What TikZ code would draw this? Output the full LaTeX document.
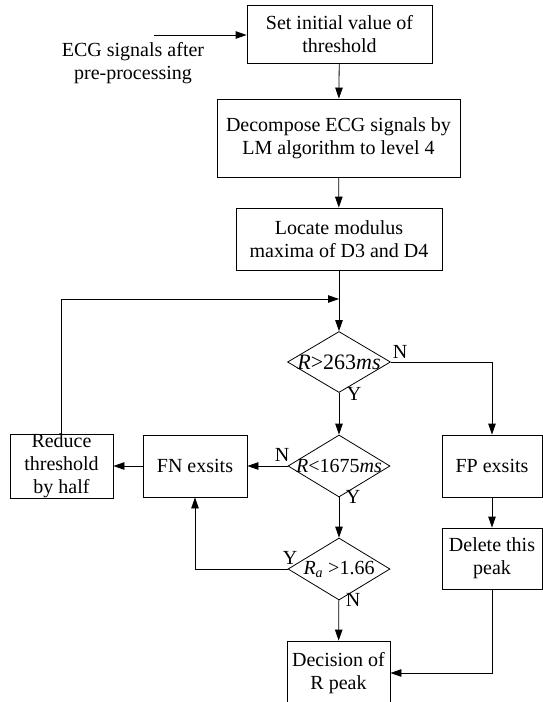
\documentclass[tikz,border=0pt]{standalone}
\usepackage{fontspec}
\setmainfont{Liberation Serif}
\usetikzlibrary{arrows.meta,shapes.geometric}

\begin{document}
\begin{tikzpicture}[
  x=1pt, y=-1pt,
  font=\fontsize{20}{23}\selectfont,
  line width=0.8pt,
  box/.style={draw, align=center, inner sep=0pt, minimum height=62pt},
  cond/.style={draw, diamond, inner sep=0pt, minimum width=102pt, minimum height=62pt},
  yn/.style={inner sep=0pt},
  >={Triangle[length=11pt, width=7.5pt]}
]
  \useasboundingbox (0,0) rectangle (543,702);

  % Nodes
  \node[box, minimum width=185pt, minimum height=58pt] (init) at (339.5,34) {Set initial value of\\threshold};
  \coordinate (input) at (154,35);
  \node[align=center] (inputtxt) at (133,63) {ECG signals after\\pre-processing};
  \node[box, minimum width=243pt, minimum height=78pt] (decomp) at (338.5,138) {Decompose ECG signals by\\LM algorithm to level 4};
  \node[box, minimum width=206pt] (locate) at (339,239) {Locate modulus\\maxima of D3 and D4};
  \coordinate (join) at (339,299);

  \node[cond, minimum width=103pt, minimum height=61pt,
        label={[font=\fontsize{22}{24}\selectfont]center:{\itshape R}>263{\itshape ms}}] (cond1) at (339,362) {};
  \node[cond, label={center:{\itshape R}<1675{\itshape ms}}] (cond2) at (339,466) {};
  \node[cond, label={center:{\itshape R}\textsubscript{\itshape a} >1.66}] (cond3) at (339,569) {};

  \node[box, minimum width=104pt] (fn) at (195,466) {FN exsits};
  \node[box, minimum width=103pt] (reduce) at (61.5,466) {Reduce\\threshold\\by half};
  \node[box, minimum width=100pt] (fp) at (492,466) {FP exsits};
  \node[box, minimum width=100pt, minimum height=61pt] (delete) at (492,558.5) {Delete this\\peak};
  \node[box, minimum width=103pt, minimum height=64pt] (decision) at (338.5,673) {Decision of\\R peak};

  % Labels
  \node[yn] (n1) at (400,352) {N};
  \node[yn] (y1) at (354,394) {Y};
  \node[yn] (n2) at (282,455) {N};
  \node[yn] (y2) at (353,497) {Y};
  \node[yn] (y3) at (290,558) {Y};
  \node[yn] (n3) at (353,600) {N};

  % Arrows
  \draw[->] (input) -- (init.west |- input);
  \draw[->] (init) -- (decomp);
  \draw[->] (decomp) -- (locate);
  \draw[->] (locate) -- (cond1);
  \draw[->] (reduce.north) |- (join);
  \draw[->] (cond1) -- (cond2);
  \draw[->] (cond1.east) -| (fp.north);
  \draw[->] (cond2.west) -- (fn.east);
  \draw[->] (fn) -- (reduce);
  \draw[->] (cond2) -- (cond3);
  \draw[->] (cond3.west) -| (fn.south);
  \draw[->] (cond3) -- (decision);
  \draw[->] (fp) -- (delete);
  \draw[->] (delete.south) |- (decision.east);
\end{tikzpicture}
\end{document}
